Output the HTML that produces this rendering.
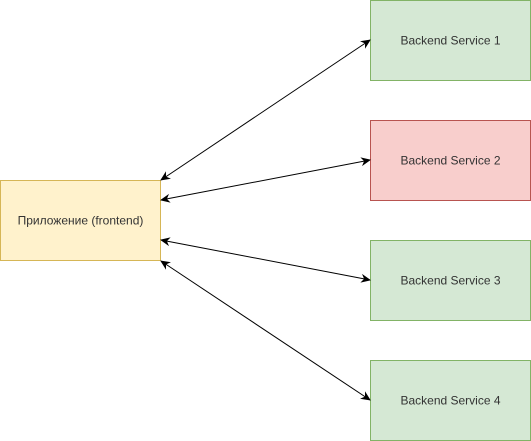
<!DOCTYPE html>
<html><head><meta charset="utf-8"><style>
html,body{margin:0;padding:0;background:#fff;}
svg{display:block;}
text{font-family:"Liberation Sans",Helvetica,Arial,sans-serif;font-size:12px;fill:#333;}
</style></head><body>
<svg width="531" height="441" viewBox="0 0 531 441" xmlns="http://www.w3.org/2000/svg">
<defs>
<marker id="a" viewBox="0 0 10 10" refX="9" refY="5" markerWidth="10" markerHeight="10" orient="auto-start-reverse" markerUnits="userSpaceOnUse">
<path d="M0,0.5 L10,5 L0,9.5 L3,5 Z" fill="#000"/>
</marker>
</defs>
<rect x="0.5" y="180.5" width="160" height="80" fill="#fff2cc" stroke="#d6b656"/>
<text x="80.5" y="224.5" text-anchor="middle">Приложение (frontend)</text>
<rect x="370.5" y="0.5" width="160" height="80" fill="#d5e8d4" stroke="#82b366"/>
<text x="450.5" y="44.5" text-anchor="middle">Backend Service 1</text>
<rect x="370.5" y="120.5" width="160" height="80" fill="#f8cecc" stroke="#b85450"/>
<text x="450.5" y="164.5" text-anchor="middle">Backend Service 2</text>
<rect x="370.5" y="240.5" width="160" height="80" fill="#d5e8d4" stroke="#82b366"/>
<text x="450.5" y="284.5" text-anchor="middle">Backend Service 3</text>
<rect x="370.5" y="360.5" width="160" height="80" fill="#d5e8d4" stroke="#82b366"/>
<text x="450.5" y="404.5" text-anchor="middle">Backend Service 4</text>
<g stroke="#000" stroke-width="1" fill="none">
<line x1="161" y1="180" x2="370" y2="40" marker-start="url(#a)" marker-end="url(#a)"/>
<line x1="161" y1="200" x2="370" y2="160" marker-start="url(#a)" marker-end="url(#a)"/>
<line x1="161" y1="240" x2="370" y2="280" marker-start="url(#a)" marker-end="url(#a)"/>
<line x1="161" y1="261" x2="370" y2="400" marker-start="url(#a)" marker-end="url(#a)"/>
</g>
</svg>
</body></html>
